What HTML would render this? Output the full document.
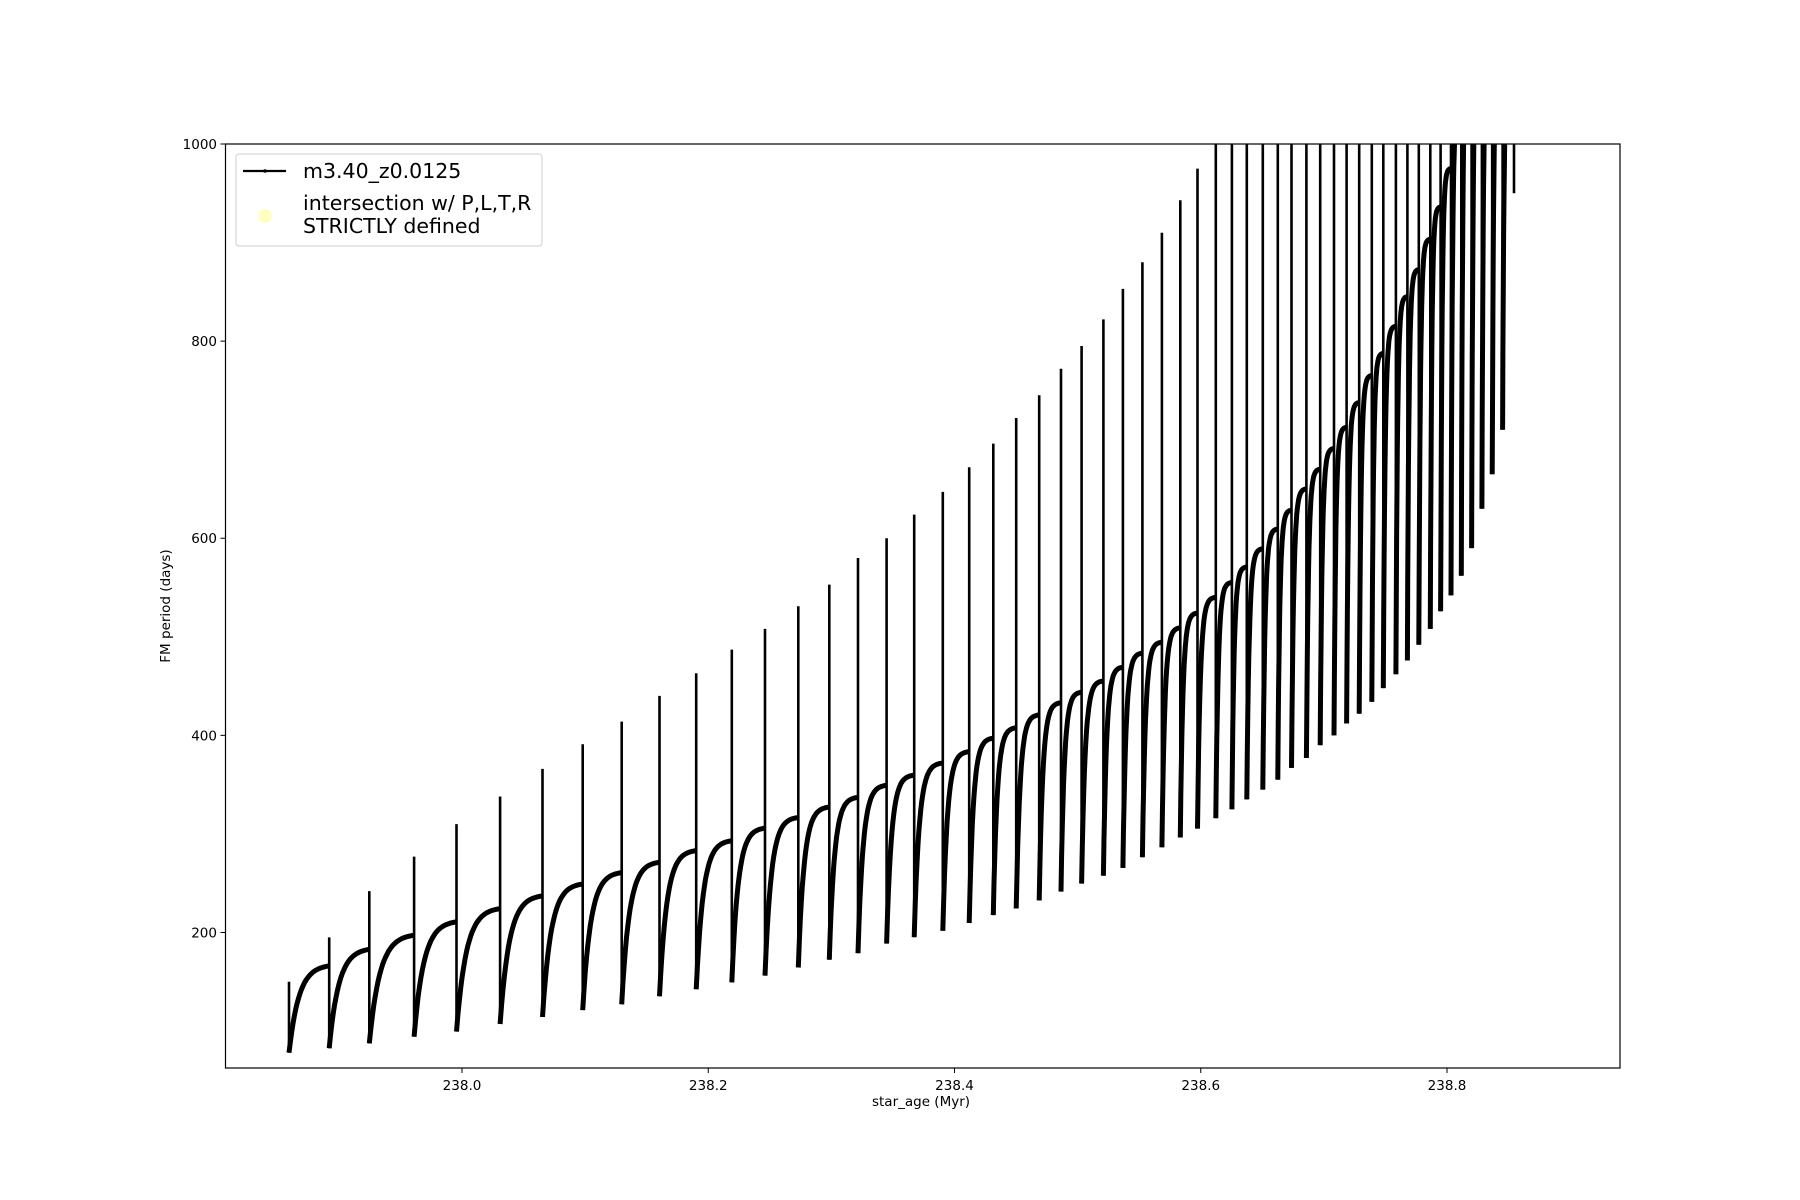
<!DOCTYPE html>
<html><head><meta charset="utf-8"><style>
html,body{margin:0;padding:0;background:#fff;}
svg{display:block;font-family:"DejaVu Sans","Liberation Sans",sans-serif;}
</style></head><body>
<svg id="s" width="1800" height="1200" xmlns="http://www.w3.org/2000/svg">
<rect width="1800" height="1200" fill="#fff"/>
<defs><clipPath id="c"><rect x="225.5" y="144" width="1394.5" height="924"/></clipPath></defs>
<g id="data" clip-path="url(#c)"></g>
<rect x="225.5" y="144" width="1394.5" height="924" fill="none" stroke="#000" stroke-width="1.2"/>
<g id="ticks" font-size="13.5" fill="#000"></g>
<text x="921" y="1106" font-size="13.5" text-anchor="middle">star_age (Myr)</text>
<text transform="translate(170,606) rotate(-90)" font-size="13.5" text-anchor="middle">FM period (days)</text>
<rect x="236" y="154" width="306" height="92" rx="3" fill="#fff" fill-opacity="0.85" stroke="#ccc" stroke-width="1"/>
<line x1="243" y1="171" x2="286" y2="171" stroke="#000" stroke-width="2.2"/>
<circle cx="265" cy="171" r="1.8" fill="#000"/>
<circle cx="265" cy="216" r="7" fill="#ffffc0"/>
<text x="303" y="178" font-size="20.5">m3.40_z0.0125</text>
<text x="303" y="210" font-size="20.5">intersection w/ P,L,T,R</text>
<text x="303" y="233" font-size="20.5">STRICTLY defined</text>
</svg>
<script>
(function(){
var S=1.147;
function X(dx){return dx*S;}
function Y(p){return 144+(1000-p)*0.9856;}
function interp(t,x){if(x<=t[0][0])return t[0][1];for(var i=1;i<t.length;i++){if(x<=t[i][0]){var a=t[i-1],c=t[i];return a[1]+(c[1]-a[1])*(x-a[0])/(c[0]-a[0]);}}return t[t.length-1][1];}
var low=[[252,78],[290,83],[326,88],[365,95],[402,100],[440,108],[477,115],[512,122],[547,128],[578,136],[610,143],[641,150],[670,157],[698,165],[725,173],[752,180],[776,190],[800,196],[823,202],[846,210],[867,218],[888,225],[907,233],[926,242],[944,250],[963,258],[980,266],[997,277],[1014,287],[1030,297],[1045,306],[1060,316],[1074,325],[1087,335],[1101,345],[1114,355],[1126,367],[1139,377],[1151,390],[1163,400],[1174,412],[1185,422],[1196,434],[1206,448],[1217,462],[1227,476],[1237,492],[1247,508],[1256,526],[1265,542],[1274,562],[1283,590],[1292,630],[1301,665],[1310,710],[1320,950]];
var high=[[252,140],[285,165],[320,182],[358,196],[396,210],[433,223],[470,236],[505,248],[540,260],[572,270],[604,282],[636,292],[665,305],[692,315],[720,326],[746,336],[770,348],[794,358],[818,370],[840,380],[862,395],[882,405],[902,418],[920,430],[940,442],[958,452],[975,465],[990,480],[1008,490],[1025,505],[1040,520],[1055,535],[1070,550],[1082,565],[1095,580],[1108,600],[1121,620],[1133,640],[1145,660],[1157,680],[1168,700],[1180,725],[1190,750],[1200,775],[1212,800],[1222,830],[1232,860],[1240,880],[1252,920],[1262,960],[1270,1000],[1280,1100]];
var spike=[[252,150],[287,195],[322,242],[361,277],[398,310],[436,338],[473,366],[508,391],[542,414],[575,440],[607,463],[638,487],[667,508],[696,531],[723,553],[748,580],[773,600],[797,624],[822,647],[845,672],[866,696],[886,722],[906,745],[925,772],[943,795],[962,822],[979,853],[996,880],[1013,910],[1029,943],[1044,975],[1058,1100]];
var ns="http://www.w3.org/2000/svg",g=document.getElementById("data");
function L(x1,y1,x2,y2,w){var e=document.createElementNS(ns,"line");e.setAttribute("x1",x1.toFixed(1));e.setAttribute("y1",y1.toFixed(1));e.setAttribute("x2",x2.toFixed(1));e.setAttribute("y2",y2.toFixed(1));e.setAttribute("stroke","#000");e.setAttribute("stroke-width",w);g.appendChild(e);}
var bs=[252,287,322,361,398,436,473,508,542,575,607,638,667,696,723,748,773,797,822,845,866,886,906,925,943,962,979,996,1013,1029,1044,1060,1074,1087,1101,1114,1126,1139,1151,1163,1174,1185,1196,1206,1217,1227,1237,1247,1256,1265,1274,1283,1292,1301,1310,1320];
var thick="";
for(var i=0;i<bs.length-1;i++){
 var x0=bs[i],x1=bs[i+1],lo=interp(low,x0),hi=interp(high,x1),sp=interp(spike,x0);
 var pk=Math.max(sp,interp(high,x0));
 if(pk>1050)pk=1050;
 L(X(x0),Y(pk),X(x0),Y(lo),2.6);
 var k=4+3*(x0-252)/1070,n=30;
 thick+="M"+X(x0).toFixed(1)+","+Y(lo).toFixed(1);
 for(var j=1;j<=n;j++){var s=j/n,p=lo+(hi-lo)*(1-Math.exp(-k*s))/(1-Math.exp(-k));thick+="L"+X(x0+(x1-x0-0.6)*s).toFixed(1)+","+Y(p).toFixed(1);}
 thick+="L"+X(x1).toFixed(1)+","+Y(hi).toFixed(1);
}
L(X(1320),Y(1050),X(1320),Y(950),2.6);
var e=document.createElementNS(ns,"path");e.setAttribute("d",thick);e.setAttribute("fill","none");e.setAttribute("stroke","#000");e.setAttribute("stroke-width","5");e.setAttribute("stroke-linejoin","round");g.appendChild(e);
var t=document.getElementById("ticks");
function tx(x,y,s,a){var e=document.createElementNS(ns,"text");e.setAttribute("x",x);e.setAttribute("y",y);e.setAttribute("text-anchor",a);e.textContent=s;t.appendChild(e);}
function ln(x1,y1,x2,y2){var e=document.createElementNS(ns,"line");e.setAttribute("x1",x1);e.setAttribute("y1",y1);e.setAttribute("x2",x2);e.setAttribute("y2",y2);e.setAttribute("stroke","#000");e.setAttribute("stroke-width","1");t.appendChild(e);}
["238.0","238.2","238.4","238.6","238.8"].forEach(function(s,i){var xx=462+i*246.25;ln(xx,1068,xx,1073);tx(xx,1090,s,"middle");});
[200,400,600,800,1000].forEach(function(p){var yy=Y(p);ln(220.5,yy,225.5,yy);tx(217,yy+5,String(p),"end");});
})();
</script>
</body></html>
